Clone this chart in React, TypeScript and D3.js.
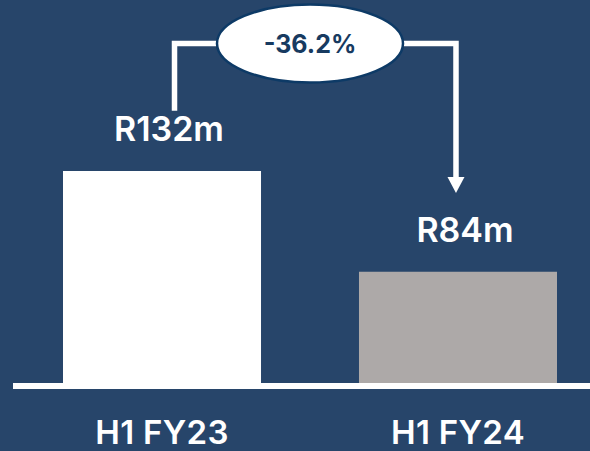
import React from "react";
import * as d3 from "d3";

const categories = ["H1 FY23", "H1 FY24"];
const values = [132, 84];
const valueLabels = ["R132m", "R84m"];
const barColors = ["#ffffff", "#ada9a8"];
const changeLabel = "-36.2%";

const W = 590;
const H = 451;
const BG = "#27456a";
const FONT = "Inter, 'Noto Sans', sans-serif";

export default function App() {
  const x = d3.scaleBand<string>().domain(categories).range([63, 557]).paddingInner(0.331).paddingOuter(0);
  const y = d3.scaleLinear().domain([31, 132]).range([383, 171]);
  const bw = x.bandwidth();
  const cx = (c: string) => (x(c) as number) + bw / 2;

  const c0 = cx(categories[0]);
  const c1 = cx(categories[1]);
  const ex = 310, ey = 43.5, rx = 93, ry = 39;
  const lx = c0 + 12.5;
  const rxLine = c1 - 2;
  const arrowTip = 193;
  const arrowH = 16;

  const leftPath = d3.path();
  leftPath.moveTo(lx, 108);
  leftPath.lineTo(lx, ey);
  leftPath.lineTo(ex - rx + 2, ey);

  const rightPath = d3.path();
  rightPath.moveTo(ex + rx - 2, ey);
  rightPath.lineTo(rxLine, ey);
  rightPath.lineTo(rxLine, arrowTip - arrowH + 1);

  return (
    <svg width={W} height={H} style={{ position: "absolute", left: 0, top: 0, display: "block" }}>
      <rect x={0} y={0} width={W} height={H} fill={BG} />
      {categories.map((c, i) => (
        <rect key={c} x={x(c)} y={y(values[i])} width={bw} height={383 - y(values[i])} fill={barColors[i]} />
      ))}
      <rect x={13} y={383} width={W - 13} height={6} fill="#ffffff" />
      {categories.map((c, i) => (
        <text key={"l" + c} x={cx(c) + 7} y={y(values[i]) - 30} textAnchor="middle" fill="#ffffff"
          fontFamily={FONT} fontWeight={600} fontSize={34}>{valueLabels[i]}</text>
      ))}
      {categories.map((c) => (
        <text key={"c" + c} x={cx(c)} y={444} textAnchor="middle" fill="#ffffff"
          fontFamily={FONT} fontWeight={600} fontSize={33} letterSpacing={0.3}>{c}</text>
      ))}
      <path d={leftPath.toString()} fill="none" stroke="#ffffff" strokeWidth={5.5} strokeLinejoin="miter" strokeLinecap="square" />
      <path d={rightPath.toString()} fill="none" stroke="#ffffff" strokeWidth={5.5} strokeLinejoin="miter" strokeLinecap="butt" />
      <polygon points={`${rxLine - 8.5},${arrowTip - arrowH} ${rxLine + 8.5},${arrowTip - arrowH} ${rxLine},${arrowTip}`} fill="#ffffff" />
      <ellipse cx={ex} cy={ey} rx={rx} ry={ry} fill="#ffffff" stroke="#0d3a66" strokeWidth={2.5} />
      <text x={ex} y={ey + 9} textAnchor="middle" fill="#173a60" fontFamily={FONT} fontWeight={700} fontSize={25}>{changeLabel}</text>
    </svg>
  );
}
